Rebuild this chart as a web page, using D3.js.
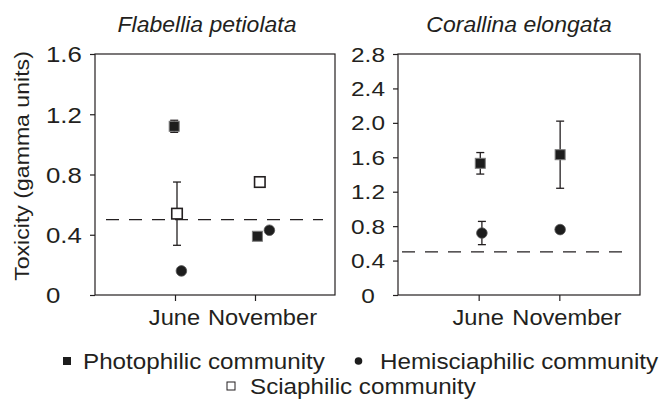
<!DOCTYPE html>
<html>
<head>
<meta charset="utf-8">
<script src="https://cdn.jsdelivr.net/npm/d3@7"></script>
<style>
  body { margin: 0; background: #fff; }
  text { font-family: "Liberation Sans", Arial, sans-serif; fill: #231f20; }
</style>
</head>
<body>
<script>
"use strict";
// values
const months = ["June", "November"]
const flabelliaPhotophilic = [1.12, 0.39]
const flabelliaPhotophilicErr = [0.04, 0]
const flabelliaSciaphilic = [0.54, 0.75]
const flabelliaSciaphilicErr = [0.21, 0]
const flabelliaHemisciaphilic = [0.16, 0.43]
const flabelliaHemisciaphilicErr = [0, 0]
const corallinaPhotophilic = [1.53, 1.63]
const corallinaPhotophilicErr = [0.125, 0.39]
const corallinaHemisciaphilic = [0.72, 0.76]
const corallinaHemisciaphilicErr = [0.135, 0]
const flabelliaTicks = [0, 0.4, 0.8, 1.2, 1.6]
const corallinaTicks = [0, 0.4, 0.8, 1.2, 1.6, 2.0, 2.4, 2.8]
const threshold = 0.5
const legendNames = ["Photophilic community", "Hemisciaphilic community", "Sciaphilic community"]

;(function(){
    const measurements = {
        width: 664,
        height: 405,
        top: 54,
        bottom: 295
    }
    const ink = "#231f20"
    // the original lettering is a bit wider than Liberation Sans
    const stretch = 1.1

    let svgContainer = d3.select("body").append("svg")
        .attr("width", measurements.width)
        .attr("height", measurements.height)

    // small sideways shifts of the markers (in month units), as in the original
    const panels = [
        {
            title: "Flabellia petiolata", titleX: 207, left: 95, right: 335, max: 1.6, ticks: flabelliaTicks,
            labelX: 46, labelAnchor: "start", labelSize: 21.5, labelStretch: 1.2, dash: [11, 12],
            series: [
                { kind: "photo", values: flabelliaPhotophilic, err: flabelliaPhotophilicErr, shift: [-0.01, 0.03] },
                { kind: "scia", values: flabelliaSciaphilic, err: flabelliaSciaphilicErr, shift: [0.025, 0.06] },
                { kind: "hemi", values: flabelliaHemisciaphilic, err: flabelliaHemisciaphilicErr, shift: [0.08, 0.18] }
            ]
        },
        {
            title: "Corallina elongata", titleX: 519, left: 398, right: 640, max: 2.8, ticks: corallinaTicks,
            labelX: 368, labelAnchor: "middle", labelSize: 19.5, labelStretch: 1.25, dash: [4, 12],
            series: [
                { kind: "photo", values: corallinaPhotophilic, err: corallinaPhotophilicErr, shift: [0.02, 0.01] },
                { kind: "hemi", values: corallinaHemisciaphilic, err: corallinaHemisciaphilicErr, shift: [0.04, 0.01] }
            ]
        }
    ]

    panels.forEach(drawPanel)
    drawYLabel()
    drawLegend()

    function widen(sel, x, y, sx) {
        sel.attr("x", 0).attr("y", 0)
            .attr("transform", "translate(" + x + "," + y + ") scale(" + sx + ",1)")
    }

    function drawPanel(p) {
        let scaleX = d3.scaleLinear()
            .domain([0, 3])
            .range([p.left, p.right])
        let scaleY = d3.scaleLinear()
            .domain([0, p.max])
            .range([measurements.bottom, measurements.top])

        let g = svgContainer.append("g")

        // frame
        g.append("rect")
            .attr("x", p.left)
            .attr("y", measurements.top)
            .attr("width", p.right - p.left)
            .attr("height", measurements.bottom - measurements.top)
            .attr("fill", "none")
            .attr("stroke", ink)
            .attr("stroke-width", 1.2)

        // y axis
        let yAxis = d3.axisLeft(scaleY)
            .tickValues(p.ticks)
            .tickSize(5)
            .tickFormat(d => d === 0 ? "0" : d3.format(".1f")(d))
        let yg = g.append("g")
            .attr("transform", "translate(" + p.left + ",0)")
            .call(yAxis)
        yg.select(".domain").remove()
        yg.selectAll("line").attr("stroke", ink).attr("stroke-width", 1.2)
        yg.selectAll("text")
            .attr("dy", "0.36em")
            .attr("text-anchor", p.labelAnchor)
            .attr("font-size", p.labelSize)
            .attr("fill", ink)
            .attr("font-family", null)
            .each(function() { widen(d3.select(this), p.labelX - p.left, 0, p.labelStretch) })

        // x axis
        let xAxis = d3.axisBottom(scaleX)
            .tickValues([1, 2])
            .tickSize(6)
            .tickFormat((d, i) => months[i])
        let xg = g.append("g")
            .attr("transform", "translate(0," + measurements.bottom + ")")
            .call(xAxis)
        xg.select(".domain").remove()
        xg.selectAll("line").attr("stroke", ink).attr("stroke-width", 1.2)
        xg.selectAll("text")
            .attr("dy", null)
            .attr("font-size", 21.5)
            .attr("fill", ink)
            .attr("font-family", null)
            .each(function(d, i) { widen(d3.select(this), i === 0 ? -1 : 7, 30, stretch) })

        // title
        g.append("text")
            .attr("text-anchor", "middle")
            .attr("font-size", 21.5)
            .attr("font-style", "italic")
            .text(p.title)
            .call(widen, p.titleX, 32, 1.07)

        // dashed reference line
        g.append("line")
            .attr("x1", p.left + p.dash[0])
            .attr("x2", p.right - p.dash[1])
            .attr("y1", scaleY(threshold))
            .attr("y2", scaleY(threshold))
            .attr("stroke", ink)
            .attr("stroke-width", 1.3)
            .attr("stroke-dasharray", "13,10")

        // error bars first, markers on top
        p.series.forEach(s => {
            s.values.forEach((v, i) => {
                if (!s.err[i]) return
                let cx = scaleX(i + 1 + s.shift[i])
                let y0 = scaleY(v - s.err[i])
                let y1 = scaleY(v + s.err[i])
                g.append("line")
                    .attr("x1", cx).attr("x2", cx)
                    .attr("y1", y0).attr("y2", y1)
                    .attr("stroke", ink).attr("stroke-width", 1.3)
                ;[y0, y1].forEach(yy => {
                    g.append("line")
                        .attr("x1", cx - 4).attr("x2", cx + 4)
                        .attr("y1", yy).attr("y2", yy)
                        .attr("stroke", ink).attr("stroke-width", 1.3)
                })
            })
        })

        // open squares under filled squares, circles on top
        const order = ["scia", "photo", "hemi"]
        order.forEach(kind => {
            p.series.filter(s => s.kind === kind).forEach(s => {
                s.values.forEach((v, i) => {
                    drawMarker(g, kind, scaleX(i + 1 + s.shift[i]), scaleY(v))
                })
            })
        })
    }

    function drawMarker(g, kind, cx, cy) {
        if (kind === "hemi") {
            g.append("circle")
                .attr("cx", cx).attr("cy", cy).attr("r", 5.3)
                .attr("fill", "#1d1d1d")
                .attr("stroke", "#555").attr("stroke-width", 0.8)
        } else if (kind === "photo") {
            g.append("rect")
                .attr("x", cx - 5).attr("y", cy - 5)
                .attr("width", 10).attr("height", 10)
                .attr("fill", "#1d1d1d")
                .attr("stroke", "#7a7a7a").attr("stroke-width", 1)
        } else {
            g.append("rect")
                .attr("x", cx - 5.25).attr("y", cy - 5.25)
                .attr("width", 10.5).attr("height", 10.5)
                .attr("fill", "#fff")
                .attr("stroke", ink).attr("stroke-width", 1.6)
        }
    }

    function drawYLabel() {
        svgContainer.append("text")
            .attr("text-anchor", "middle")
            .attr("font-size", 21)
            .attr("transform", "translate(29,166) rotate(-90) scale(" + stretch + ",1)")
            .text("Toxicity (gamma units)")
    }

    function drawLegend() {
        const items = [
            { kind: "photo", name: legendNames[0], mx: 67, tx: 83, y: 369 },
            { kind: "hemi", name: legendNames[1], mx: 358.5, tx: 380, y: 369 },
            { kind: "scia", name: legendNames[2], mx: 231, tx: 250, y: 394 }
        ]
        let lg = svgContainer.append("g")
        items.forEach(it => {
            if (it.kind === "photo") {
                lg.append("rect")
                    .attr("x", it.mx - 4).attr("y", it.y - 12)
                    .attr("width", 8).attr("height", 8)
                    .attr("fill", "#1d1d1d")
            } else if (it.kind === "hemi") {
                lg.append("circle")
                    .attr("cx", it.mx).attr("cy", it.y - 8).attr("r", 3.8)
                    .attr("fill", "#1d1d1d")
            } else {
                lg.append("rect")
                    .attr("x", it.mx - 4).attr("y", it.y - 12)
                    .attr("width", 8).attr("height", 8)
                    .attr("fill", "#fff")
                    .attr("stroke", ink).attr("stroke-width", 1)
            }
            lg.append("text")
                .attr("font-size", 22)
                .text(it.name)
                .call(widen, it.tx, it.y, stretch)
        })
    }
})()
</script>
</body>
</html>
